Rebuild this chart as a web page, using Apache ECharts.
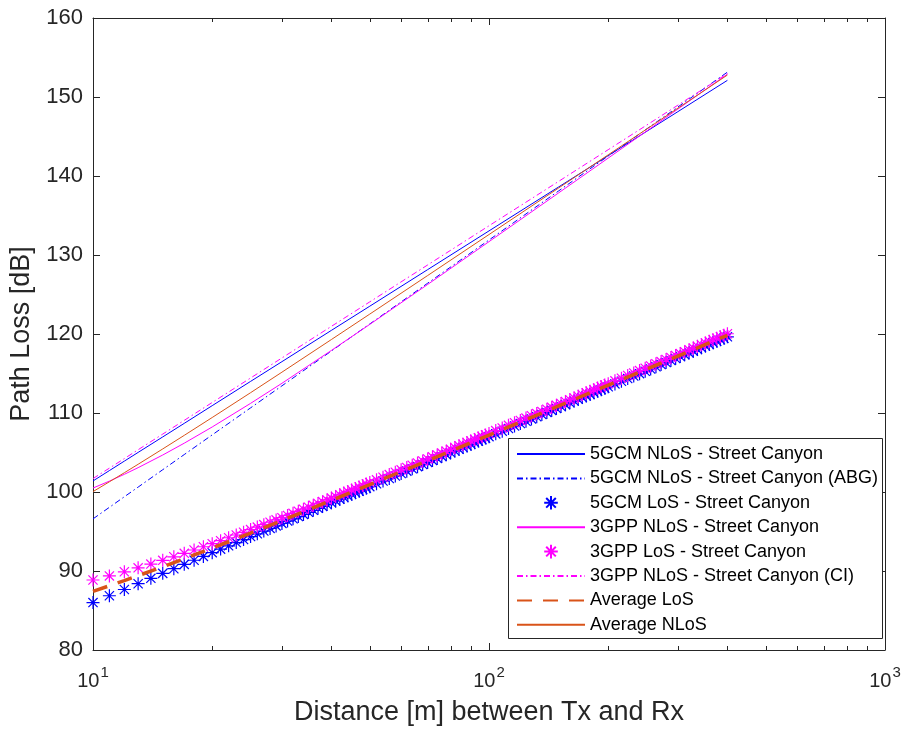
<!DOCTYPE html>
<html>
<head>
<meta charset="utf-8">
<title>Path loss vs distance – street canyon</title>
<script src="https://cdn.jsdelivr.net/npm/echarts@6/dist/echarts.min.js"></script>
<style>
  html, body { margin: 0; padding: 0; background: #fff; }
  #chart { width: 904px; height: 733px; }
</style>
</head>
<body>
<div id="chart"></div>
<script>
// Distances (m) for the NLoS model curves
const nlosDist = [10, 11, 12, 13, 15, 17, 20, 25, 30, 40, 50, 70, 100, 150, 200, 300, 400];
// 5GCM NLoS (CI)
const gcmNlos = [101.40, 102.71, 103.91, 105.01, 106.97, 108.69, 110.93, 114.00, 116.50, 120.46, 123.52, 128.15, 133.05, 138.62, 142.58, 148.15, 152.11];
// 5GCM NLoS (ABG)
const gcmNlosAbg = [96.60, 98.06, 99.40, 100.62, 102.82, 104.74, 107.23, 110.65, 113.44, 117.85, 121.27, 126.43, 131.90, 138.12, 142.53, 148.74, 153.15];
// 3GPP NLoS
const gppNlos = [100.50, 101.38, 102.24, 103.08, 104.68, 106.18, 108.23, 111.22, 113.76, 117.92, 121.22, 126.27, 131.69, 137.87, 142.27, 148.48, 152.89];
// 3GPP NLoS (CI)
const gppNlosCi = [101.70, 103.02, 104.23, 105.35, 107.33, 109.07, 111.33, 114.43, 116.97, 120.97, 124.07, 128.74, 133.70, 139.33, 143.33, 148.97, 152.97];
// Average of the NLoS models
const avgNlos = [100.05, 101.29, 102.44, 103.51, 105.45, 107.17, 109.43, 112.57, 115.17, 119.30, 122.52, 127.40, 132.59, 138.49, 142.68, 148.59, 152.78];

// Distances (m) of the LoS samples
const losDist = [
  10, 11, 12, 13, 14, 15, 16, 17, 18, 19, 20, 21, 22, 23, 24, 25, 26, 27, 28, 29, 30,
  31, 32, 33, 34, 35, 36, 37, 38, 39, 40, 41, 42, 43, 44, 45, 46, 47, 48, 49, 50,
  52, 54, 56, 58, 60, 62, 64, 66, 68, 70, 72, 74, 76, 78, 80, 82, 84, 86, 88, 90, 92, 94, 96, 98, 100,
  104, 108, 112, 116, 120, 124, 128, 132, 136, 140, 144, 148, 152, 156, 160, 164, 168, 172, 176, 180, 184, 188, 192, 196, 200,
  208, 216, 224, 232, 240, 248, 256, 264, 272, 280, 288, 296, 304, 312, 320, 328, 336, 344, 352, 360, 368, 376, 384, 392, 400
];
// 5GCM LoS
const gcmLos = [
  86.00, 86.87, 87.66, 88.39, 89.07, 89.70, 90.29, 90.84, 91.36, 91.85, 92.32, 92.77, 93.19, 93.60, 93.98, 94.36, 94.71, 95.06, 95.39, 95.71, 96.02,
  96.32, 96.61, 96.89, 97.16, 97.43, 97.68, 97.93, 98.18, 98.41, 98.64, 98.87, 99.09, 99.30, 99.51, 99.72, 99.92, 100.11, 100.31, 100.49, 100.68,
  101.04, 101.38, 101.71, 102.03, 102.34, 102.64, 102.93, 103.21, 103.48, 103.75, 104.00, 104.25, 104.50, 104.73, 104.97, 105.19, 105.41, 105.62, 105.83, 106.04, 106.24, 106.44, 106.63, 106.82, 107.00,
  107.36, 107.70, 108.03, 108.35, 108.66, 108.96, 109.25, 109.53, 109.80, 110.07, 110.33, 110.58, 110.82, 111.06, 111.29, 111.51, 111.73, 111.95, 112.16, 112.36, 112.56, 112.76, 112.95, 113.14, 113.32,
  113.68, 114.02, 114.36, 114.68, 114.98, 115.28, 115.57, 115.85, 116.13, 116.39, 116.65, 116.90, 117.14, 117.38, 117.61, 117.83, 118.05, 118.27, 118.48, 118.68, 118.88, 119.08, 119.27, 119.46, 119.64
];
// 3GPP LoS
const gppLos = [
  88.86, 89.38, 89.90, 90.40, 90.88, 91.35, 91.80, 92.24, 92.66, 93.07, 93.46, 93.84, 94.21, 94.56, 94.90, 95.24, 95.56, 95.87, 96.17, 96.47, 96.75,
  97.03, 97.30, 97.56, 97.82, 98.07, 98.31, 98.55, 98.78, 99.00, 99.23, 99.44, 99.65, 99.86, 100.06, 100.26, 100.45, 100.64, 100.83, 101.01, 101.19,
  101.54, 101.87, 102.20, 102.51, 102.81, 103.11, 103.39, 103.67, 103.93, 104.19, 104.45, 104.69, 104.93, 105.17, 105.40, 105.62, 105.84, 106.05, 106.26, 106.46, 106.66, 106.85, 107.04, 107.23, 107.41,
  107.77, 108.11, 108.44, 108.76, 109.06, 109.36, 109.65, 109.93, 110.20, 110.47, 110.72, 110.97, 111.21, 111.45, 111.68, 111.90, 112.12, 112.34, 112.55, 112.75, 112.95, 113.15, 113.34, 113.53, 113.71,
  114.07, 114.41, 114.75, 115.06, 115.37, 115.67, 115.96, 116.24, 116.51, 116.78, 117.03, 117.28, 117.52, 117.76, 117.99, 118.22, 118.44, 118.65, 118.86, 119.07, 119.27, 119.46, 119.65, 119.84, 120.03
];
// Average of the LoS models
const avgLosDist = [10, 12, 15, 20, 25, 30, 40, 50, 70, 100, 150, 200, 300, 400];
const avgLos = [87.43, 88.78, 90.53, 92.89, 94.80, 96.39, 98.94, 100.94, 103.97, 107.21, 110.89, 113.52, 117.21, 119.84];

// Axis ranges and log-axis minor tick positions
const xRange = [10, 1000];
const yRange = [80, 160];
const yStep = 10;
const xMinorTicks = [20, 30, 40, 50, 60, 70, 80, 90, 200, 300, 400, 500, 600, 700, 800, 900];

const FONT = '"Liberation Sans", Arial, Helvetica, sans-serif';
const AXIS_COLOR = '#262626';
const BLUE = '#0000FF';
const MAGENTA = '#FF00FF';
const ORANGE = '#D95319';
const ASTERISK = 'path://M0,-10L0,10M-10,0L10,0M-7.07,-7.07L7.07,7.07M-7.07,7.07L7.07,-7.07';
const DASH_DOT = [6, 3, 1.5, 3];

const pairs = (xs, ys) => xs.map((x, i) => [x, ys[i]]);

function curve(name, xs, ys, color, type, width, z) {
  return {
    name, type: 'line', data: pairs(xs, ys),
    symbol: 'none', showSymbol: false, silent: true, animation: false,
    lineStyle: { color, width: width || 1, type: type || 'solid' },
    itemStyle: { color }, z: z || 2
  };
}

function markers(name, xs, ys, color) {
  return {
    name, type: 'line', data: pairs(xs, ys),
    symbol: ASTERISK, symbolSize: 13, silent: true, animation: false,
    lineStyle: { color, width: 1, opacity: 0 },
    itemStyle: { color, borderColor: color, borderWidth: 1.2 }, z: 2
  };
}

const names = [
  '5GCM NLoS - Street Canyon',
  '5GCM NLoS - Street Canyon (ABG)',
  '5GCM LoS - Street Canyon',
  '3GPP NLoS - Street Canyon',
  '3GPP LoS - Street Canyon',
  '3GPP NLoS - Street Canyon (CI)',
  'Average LoS',
  'Average NLoS'
];
const markerNames = new Set([names[2], names[4]]);

const series = [
  curve(names[0], nlosDist, gcmNlos, BLUE),
  curve(names[1], nlosDist, gcmNlosAbg, BLUE, DASH_DOT),
  markers(names[2], losDist, gcmLos, BLUE),
  curve(names[3], nlosDist, gppNlos, MAGENTA),
  markers(names[4], losDist, gppLos, MAGENTA),
  curve(names[5], nlosDist, gppNlosCi, MAGENTA, DASH_DOT),
  curve(names[6], avgLosDist, avgLos, ORANGE, [15, 11], 3.5, 3),
  curve(names[7], nlosDist, avgNlos, ORANGE, 'solid', 1, 3),
  {
    // minor ticks of the logarithmic distance axis, bottom and top edges
    type: 'custom', silent: true, animation: false, z: 3,
    data: xMinorTicks.map(d => [d, yRange[0]]),
    renderItem: (params, api) => {
      const b = api.coord([api.value(0), yRange[0]]);
      const t = api.coord([api.value(0), yRange[1]]);
      const x = Math.round(b[0]) + 0.5;
      const st = { stroke: AXIS_COLOR, lineWidth: 1 };
      return {
        type: 'group', children: [
          { type: 'line', shape: { x1: x, y1: b[1], x2: x, y2: b[1] - 4 }, style: st },
          { type: 'line', shape: { x1: x, y1: t[1], x2: x, y2: t[1] + 4 }, style: st }
        ]
      };
    }
  }
];

const axisLine = { show: true, onZero: false, lineStyle: { color: AXIS_COLOR, width: 1 } };
const majorTick = { show: true, inside: true, length: 7, lineStyle: { color: AXIS_COLOR, width: 1 } };

const option = {
  backgroundColor: '#fff',
  animation: false,
  textStyle: { fontFamily: FONT },
  grid: { left: 93, right: 19, top: 18, bottom: 83, containLabel: false },
  xAxis: [
    {
      type: 'log', logBase: 10, min: xRange[0], max: xRange[1], position: 'bottom',
      axisLine, axisTick: majorTick, splitLine: { show: false }, minorTick: { show: false },
      axisLabel: {
        margin: 15, color: AXIS_COLOR,
        formatter: v => '{b|10}{s|' + Math.round(Math.log10(v)) + '}',
        rich: {
          b: { fontSize: 20, fontFamily: FONT, color: AXIS_COLOR, verticalAlign: 'bottom' },
          s: { fontSize: 15, fontFamily: FONT, color: AXIS_COLOR, verticalAlign: 'bottom', padding: [0, 0, 11, 1] }
        }
      },
      name: 'Distance [m] between Tx and Rx', nameLocation: 'middle', nameGap: 49,
      nameTextStyle: { fontSize: 27, fontFamily: FONT, color: AXIS_COLOR }
    },
    {
      type: 'log', logBase: 10, min: xRange[0], max: xRange[1], position: 'top',
      axisLine, axisTick: majorTick, axisLabel: { show: false }, splitLine: { show: false }
    }
  ],
  yAxis: [
    {
      type: 'value', min: yRange[0], max: yRange[1], interval: yStep, position: 'left',
      axisLine, axisTick: majorTick, splitLine: { show: false },
      axisLabel: { fontSize: 22, fontFamily: FONT, color: AXIS_COLOR, margin: 10 },
      name: 'Path Loss [dB]', nameLocation: 'middle', nameGap: 57,
      nameTextStyle: { fontSize: 27, fontFamily: FONT, color: AXIS_COLOR }
    },
    {
      type: 'value', min: yRange[0], max: yRange[1], interval: yStep, position: 'right',
      axisLine, axisTick: majorTick, axisLabel: { show: false }, splitLine: { show: false }
    }
  ],
  legend: {
    orient: 'vertical', left: 508, top: 438, padding: [6, 6, 5, 8],
    itemWidth: 68, itemHeight: 17, itemGap: 4.4, selectedMode: false,
    textStyle: { fontSize: 18, fontFamily: FONT, color: '#000', lineHeight: 20 },
    z: 5,
    data: names.map(n => markerNames.has(n) ? { name: n } : { name: n, itemStyle: { opacity: 0 } })
  },
  graphic: [{
    type: 'rect', left: 508, top: 438, z: 4,
    shape: { width: 374, height: 200 },
    style: { fill: '#fff', stroke: AXIS_COLOR, lineWidth: 1 }
  }],
  series
};

const chart = echarts.init(document.getElementById('chart'), null, { renderer: 'canvas' });
chart.setOption(option);
</script>
</body>
</html>
